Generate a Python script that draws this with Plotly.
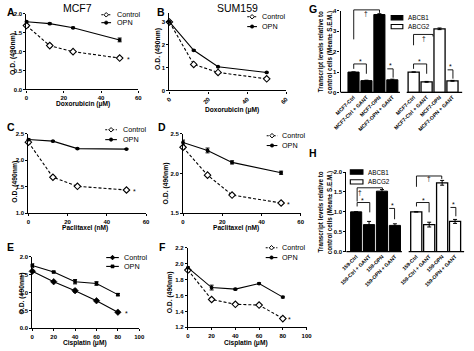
import plotly.graph_objects as go

W, H = 474, 351
FONT = "Liberation Sans"

# ---------------- data ----------------
dox_conc = [0, 12.5, 25, 50]
pac_conc = [0, 12.5, 25, 50]
cis_conc = [0, 20, 40, 60, 80]

A_ctrl = [1.69, 1.16, 1.00, 0.83]
A_ctrl_err = [0.02, 0.04, 0.03, 0.02]
A_opn = [1.79, 1.74, 1.63, 1.31]
A_opn_err = [0.02, 0.02, 0.02, 0.05]

B_ctrl = [3.00, 1.14, 0.79, 0.51]
B_ctrl_err = [0.05, 0.03, 0.03, 0.03]
B_opn = [3.00, 1.76, 1.04, 0.79]
B_opn_err = [0.03, 0.03, 0.02, 0.02]

C_ctrl = [2.34, 1.68, 1.51, 1.44]
C_ctrl_err = [0.02, 0.02, 0.01, 0.01]
C_opn = [2.39, 2.36, 2.22, 2.21]
C_opn_err = [0.02, 0.01, 0.01, 0.01]

D_ctrl = [2.33, 1.98, 1.73, 1.63]
D_ctrl_err = [0.02, 0.01, 0.01, 0.01]
D_opn = [2.39, 2.29, 2.14, 2.01]
D_opn_err = [0.03, 0.03, 0.02, 0.02]

E_ctrl = [1.59, 1.30, 1.05, 0.77, 0.45]
E_ctrl_err = [0.03, 0.02, 0.04, 0.02, 0.02]
E_opn = [1.75, 1.57, 1.30, 1.25, 0.94]
E_opn_err = [0.05, 0.02, 0.06, 0.05, 0.03]

F_ctrl = [1.92, 1.55, 1.49, 1.48, 1.31]
F_ctrl_err = [0.01, 0.01, 0.01, 0.01, 0.01]
F_opn = [1.95, 1.70, 1.68, 1.75, 1.58]
F_opn_err = [0.01, 0.03, 0.01, 0.01, 0.01]

G_labels = ["MCF7-Ctrl", "MCF7-Ctrl + GANT", "MCF7-OPN", "MCF7-OPN + GANT"]
G_abcb1 = [1.00, 0.58, 3.82, 0.62]
G_abcb1_err = [0.0, 0.02, 0.04, 0.03]
G_abcg2 = [1.00, 0.52, 3.12, 0.57]
G_abcg2_err = [0.0, 0.02, 0.04, 0.02]

H_labels = ["159-Ctrl", "159-Ctrl + GANT", "159-OPN", "159-OPN + GANT"]
H_abcb1 = [1.00, 0.68, 1.52, 0.66]
H_abcb1_err = [0.0, 0.08, 0.04, 0.04]
H_abcg2 = [1.00, 0.68, 1.73, 0.76]
H_abcg2_err = [0.0, 0.06, 0.06, 0.05]

GROUP_GAP = 1.65
pos_b1 = [float(i) for i in range(len(G_labels))]
pos_g2 = [i + len(G_labels) - 1 + GROUP_GAP for i in range(len(G_labels))]


def px(x):
    return x / W


def py(y):
    return 1 - y / H


fig = go.Figure()
layout = dict(width=W, height=H, margin=dict(l=0, r=0, t=0, b=0),
              paper_bgcolor="white", plot_bgcolor="white", showlegend=False,
              font=dict(family=FONT, color="black"))
shapes = []
annotations = []

tickfont = dict(family=FONT, size=6, color="black", weight="bold")


def ax_common():
    return dict(showline=True, linecolor="black", linewidth=1.2, ticks="outside",
                ticklen=2, tickwidth=1, tickcolor="black", showgrid=False,
                zeroline=False, tickfont=tickfont, fixedrange=True)


def setup_axes(i, xpx, ypx, xrange, yrange, xticks, yticks, yfmt, xangle=0,
               xticktext=None, xshowline=True, xticks_on=True):
    xa = ax_common()
    xa.update(domain=[px(xpx[0]), px(xpx[1])], range=xrange, tickvals=xticks,
              anchor=f"y{i}" if i > 1 else "y", tickangle=xangle)
    if xticktext is not None:
        xa["ticktext"] = xticktext
    if not xshowline:
        xa["showline"] = False
    if not xticks_on:
        xa["ticks"] = ""
    ya = ax_common()
    ya.update(domain=[py(ypx[1]), py(ypx[0])], range=yrange, tickvals=yticks,
              tickformat=yfmt, anchor=f"x{i}" if i > 1 else "x")
    layout["xaxis" if i == 1 else f"xaxis{i}"] = xa
    layout["yaxis" if i == 1 else f"yaxis{i}"] = ya


def ref(i):
    return ("x", "y") if i == 1 else (f"x{i}", f"y{i}")


def add_line(i, xs, ys, errs, kind):
    xr, yr = ref(i)
    if kind == "ctrl":
        marker = dict(symbol="diamond", size=5, color="white",
                      line=dict(color="black", width=1.1))
        line = dict(color="black", width=1.1, dash="3px,2px")
    elif kind == "ctrl_solid":
        marker = dict(symbol="diamond", size=5, color="black",
                      line=dict(color="black", width=0.6))
        line = dict(color="black", width=1.1)
    elif kind == "opn_sq":
        marker = dict(symbol="square", size=3.5, color="black")
        line = dict(color="black", width=1.1)
    else:
        marker = dict(symbol="circle", size=3.8, color="black")
        line = dict(color="black", width=1.1)
    fig.add_trace(go.Scatter(x=xs, y=ys, mode="lines+markers", xaxis=xr, yaxis=yr,
                             line=line, marker=marker, cliponaxis=False,
                             error_y=dict(type="data", array=errs, color="black",
                                          thickness=1, width=2)))


def txt(x, y, s, size=7, bold=True, xanchor="center", yanchor="middle", angle=0,
        xref="paper", yref="paper"):
    annotations.append(dict(x=px(x) if xref == "paper" else x,
                            y=py(y) if yref == "paper" else y,
                            xref=xref, yref=yref, text=s, showarrow=False,
                            xanchor=xanchor, yanchor=yanchor, textangle=angle,
                            font=dict(family=FONT, size=size, color="black",
                                      weight="bold" if bold else "normal")))


def seg(x0, y0, x1, y1, dash="solid", width=1.1):
    shapes.append(dict(type="line", xref="paper", yref="paper",
                       x0=px(x0), y0=py(y0), x1=px(x1), y1=py(y1),
                       line=dict(color="black", width=width, dash=dash)))


def legend_entry(x0, x1, y, tx, label, kind):
    xc = (x0 + x1) / 2
    if kind == "ctrl":
        seg(x0, y, x1, y, dash="2px,1.5px")
    else:
        seg(x0, y, x1, y)
    if kind in ("ctrl", "ctrl_solid"):
        r = 2.3
        pts = [(xc, y - r), (xc + r, y), (xc, y + r), (xc - r, y)]
        path = "M " + " L ".join(f"{px(a)},{py(b)}" for a, b in pts) + " Z"
        shapes.append(dict(type="path", xref="paper", yref="paper", path=path,
                           fillcolor="white" if kind == "ctrl" else "black",
                           line=dict(color="black", width=1.0)))
    elif kind == "opn_sq":
        r = 1.6
        shapes.append(dict(type="rect", xref="paper", yref="paper",
                           x0=px(xc - r), x1=px(xc + r), y0=py(y + r), y1=py(y - r),
                           fillcolor="black", line=dict(color="black", width=0.5)))
    else:
        r = 1.8
        shapes.append(dict(type="circle", xref="paper", yref="paper",
                           x0=px(xc - r), x1=px(xc + r), y0=py(y + r), y1=py(y - r),
                           fillcolor="black", line=dict(color="black", width=0.5)))
    txt(tx, y, label, size=7.2, bold=False, xanchor="left")


def bar_legend(x0, x1, y, tx, label, filled):
    shapes.append(dict(type="rect", xref="paper", yref="paper",
                       x0=px(x0), x1=px(x1), y0=py(y + 2.2), y1=py(y - 2.2),
                       fillcolor="black" if filled else "white",
                       line=dict(color="black", width=1.1)))
    txt(tx, y, label, size=6.3, bold=False, xanchor="left")


def bracket(xl, xr, y, yl, yr, sym, sx, sy, size=7):
    seg(xl, y, xr, y, width=0.9)
    if yl is not None:
        seg(xl, y, xl, yl, width=0.9)
    if yr is not None:
        seg(xr, y, xr, yr, width=0.9)
    txt(sx, sy, sym, size=size, bold=False)


# ---------------- panel A ----------------
setup_axes(1, (20, 135), (11, 88), [0, 60], [0, 2.0], [0, 20, 40, 60],
           [0, 0.5, 1.0, 1.5, 2.0], ".1f")
add_line(1, dox_conc, A_ctrl, A_ctrl_err, "ctrl")
add_line(1, dox_conc, A_opn, A_opn_err, "opn")
legend_entry(97, 107, 12, 111, "Control", "ctrl")
legend_entry(97, 107, 20, 111, "OPN", "opn")
txt(55, A_ctrl[-1] - 0.03, "*", size=7, bold=False, xref="x", yref="y")

# ---------------- panel B ----------------
setup_axes(2, (167, 287), (10, 89), [0, 60], [0, 3.4], [0, 20, 40, 60],
           [0, 1, 2, 3], "d", xangle=-45)
add_line(2, dox_conc, B_ctrl, B_ctrl_err, "ctrl")
add_line(2, dox_conc, B_opn, B_opn_err, "opn")
legend_entry(247, 257, 14, 260, "Control", "ctrl")
legend_entry(247, 257, 24, 260, "OPN", "opn")

# ---------------- panel C ----------------
setup_axes(3, (22, 143), (133, 214), [0, 60], [1.0, 2.5], [0, 20, 40, 60],
           [1.0, 1.5, 2.0, 2.5], ".1f")
add_line(3, pac_conc, C_ctrl, C_ctrl_err, "ctrl")
add_line(3, pac_conc, C_opn, C_opn_err, "opn")
legend_entry(101, 113, 129, 117, "Control", "ctrl")
legend_entry(101, 113, 139, 117, "OPN", "opn")
txt(54, C_ctrl[-1] - 0.02, "*", size=7, bold=False, xref="x3", yref="y3")

# ---------------- panel D ----------------
setup_axes(4, (181, 302), (133, 214), [0, 60], [1.5, 2.5], [0, 20, 40, 60],
           [1.5, 2.0, 2.5], ".1f")
add_line(4, pac_conc, D_ctrl, D_ctrl_err, "ctrl")
add_line(4, pac_conc, D_opn, D_opn_err, "opn")
legend_entry(267, 278, 135, 281, "Control", "ctrl")
legend_entry(267, 278, 145, 281, "OPN", "opn")
txt(54, D_ctrl[-1] - 0.015, "*", size=7, bold=False, xref="x4", yref="y4")

# ---------------- panel E ----------------
setup_axes(5, (26, 136), (258, 331), [0, 100], [0, 2.0], [0, 20, 40, 60, 80, 100],
           [0, 0.5, 1.0, 1.5, 2.0], ".1f")
add_line(5, cis_conc, E_ctrl, E_ctrl_err, "ctrl_solid")
add_line(5, cis_conc, E_opn, E_opn_err, "opn_sq")
legend_entry(102, 115, 259, 118, "Control", "ctrl_solid")
legend_entry(102, 115, 268, 118, "OPN", "opn_sq")
txt(88, E_ctrl[-1] - 0.03, "*", size=7, bold=False, xref="x5", yref="y5")

# ---------------- panel F ----------------
setup_axes(6, (186, 308), (249, 330), [0, 100], [1.2, 2.2], [0, 20, 40, 60, 80, 100],
           [1.2, 1.4, 1.6, 1.8, 2.0, 2.2], ".1f")
add_line(6, cis_conc, F_ctrl, F_ctrl_err, "ctrl")
add_line(6, cis_conc, F_opn, F_opn_err, "opn")
legend_entry(266, 278, 249, 281, "Control", "ctrl")
legend_entry(266, 278, 259, 281, "OPN", "opn")
txt(86, F_ctrl[-1] - 0.015, "*", size=7, bold=False, xref="x6", yref="y6")

# ---------------- panel G ----------------
bar_ticks = pos_b1 + pos_g2
setup_axes(7, (343, 468), (8, 91), [-1.0, 8.4], [0, 4], bar_ticks,
           [0, 1, 2, 3, 4], "d", xangle=-45, xticktext=G_labels + G_labels,
           xshowline=False, xticks_on=False)
layout["xaxis7"]["tickfont"] = dict(family=FONT, size=5.2, color="black", weight="bold")
fig.add_trace(go.Bar(x=pos_b1, y=G_abcb1, xaxis="x7", yaxis="y7", width=0.86,
                     marker=dict(color="black", line=dict(color="black", width=1)),
                     error_y=dict(type="data", array=G_abcb1_err, color="black",
                                  thickness=1, width=2)))
fig.add_trace(go.Bar(x=pos_g2, y=G_abcg2, xaxis="x7", yaxis="y7", width=0.86,
                     marker=dict(color="white", line=dict(color="black", width=1.3)),
                     error_y=dict(type="data", array=G_abcg2_err, color="black",
                                  thickness=1, width=2)))
seg(343, 91, 404, 91, width=1.2)
seg(411, 91, 468, 91, width=1.2)
bar_legend(395, 407, 15, 410, "ABCB1", True)
bar_legend(395, 407, 24, 410, "ABCG2", False)
bracket(356.5, 383, 7, 37, 10, "†", 369, 11, size=6.5)
bracket(356.5, 369.5, 62, 67, 72, "*", 363, 60)
bracket(391, 397, 67, None, 76, "*", 394, 64)
bracket(418, 438, 32, 43, 34, "†", 429, 36, size=6.5)
bracket(418, 431.5, 62, 67, 72, "*", 424.5, 60)
bracket(453, 458.5, 68, None, 77, "*", 456, 65)
txt(323, 50, "Transcript levels relative to", size=6.3, angle=-90)
txt(332, 50, "control cells (Mean± S.E.M.)", size=6.3, angle=-90)

# ---------------- panel H ----------------
setup_axes(8, (349, 470), (172, 253), [-0.75, 8.35], [0, 2.0], bar_ticks,
           [0, 0.5, 1.0, 1.5, 2.0], ".1f", xangle=-45, xticktext=H_labels + H_labels,
           xshowline=False, xticks_on=False)
layout["xaxis8"]["tickfont"] = dict(family=FONT, size=5.2, color="black", weight="bold")
fig.add_trace(go.Bar(x=pos_b1, y=H_abcb1, xaxis="x8", yaxis="y8", width=0.86,
                     marker=dict(color="black", line=dict(color="black", width=1)),
                     error_y=dict(type="data", array=H_abcb1_err, color="black",
                                  thickness=1, width=2)))
fig.add_trace(go.Bar(x=pos_g2, y=H_abcg2, xaxis="x8", yaxis="y8", width=0.86,
                     marker=dict(color="white", line=dict(color="black", width=1.3)),
                     error_y=dict(type="data", array=H_abcg2_err, color="black",
                                  thickness=1, width=2)))
seg(349, 253, 406, 253, width=1.2)
seg(413, 253, 470, 253, width=1.2)
bar_legend(353, 366, 172, 369, "ABCB1", True)
bar_legend(353, 366, 182, 369, "ABCG2", False)
bracket(360, 386, 188, 202, 190, "†", 363, 193, size=6.5)
bracket(360, 373, 203, 207, 213, "*", 366, 201)
bracket(393, 398.5, 209, None, 220, "*", 396, 206)
bracket(421, 447, 176, 187, 179, "†", 434, 179, size=6.5)
bracket(421, 434, 203, 207, 213, "*", 428, 201)
bracket(456, 461.5, 208, None, 217, "*", 459, 205)
txt(323, 213, "Transcript levels relative to", size=6.3, angle=-90)
txt(332, 213, "control cells (Mean± S.E.M.)", size=6.3, angle=-90)

# ---------------- titles / labels ----------------
txt(4, 9, "A", size=10.5)
txt(158, 9, "B", size=10.5)
txt(4, 126, "C", size=10.5)
txt(159, 126, "D", size=10.5)
txt(4, 248, "E", size=10.5)
txt(160, 248, "F", size=10.5)
txt(315, 6, "G", size=10.5)
txt(315, 153, "H", size=10.5)
txt(72, 5, "MCF7", size=10.5, bold=False)
txt(237, 5, "SUM159", size=10.5, bold=False)

for (x, y, s) in [(78, 103, "Doxorubicin (μM)"), (231, 109, "Doxorubicin (μM)"),
                  (80, 229, "Paclitaxel (nM)"), (235, 229, "Paclitaxel (nM)"),
                  (80, 346, "Cisplatin (μM)"), (246, 346, "Cisplatin (μM)")]:
    txt(x, y, s, size=6.6)

for (x, y) in [(6, 52), (155, 47), (8, 182), (163, 184), (15, 296), (168, 294)]:
    txt(x, y, "O.D. (490nm)", size=6.8, angle=-90)

layout["shapes"] = shapes
layout["annotations"] = annotations
fig.update_layout(**layout)
fig.write_html("out.html")
